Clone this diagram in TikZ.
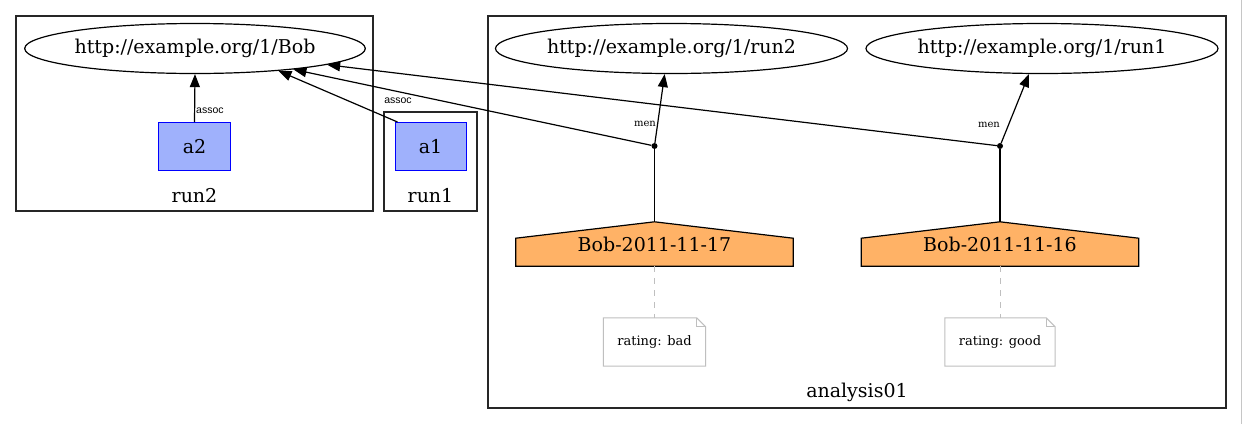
\documentclass[tikz,border=0pt]{standalone}
\usepackage{fontspec}
\setmainfont{DejaVu Serif}
\newfontfamily\lblsans{Liberation Sans}
\usetikzlibrary{arrows.meta,calc,shapes.geometric,backgrounds}
\definecolor{agentfill}{HTML}{9FB1FC}
\definecolor{actfill}{HTML}{FFB266}
\definecolor{notegray}{HTML}{BFBFBF}
\begin{document}
\begin{tikzpicture}[x=1pt,y=-1pt,
  main/.style={font=\fontsize{19}{22}\selectfont},
  uri/.style={ellipse,draw,line width=1.2pt,minimum height=50pt,inner sep=0pt,main},
  cluster/.style={draw=black!85,line width=1.4pt},
  agent/.style={rectangle,draw=blue,fill=agentfill,line width=1pt,minimum width=72pt,minimum height=48pt,inner sep=0pt,main},
  dotn/.style={circle,fill=black,inner sep=0pt,minimum size=6pt},
  housetxt/.style={rectangle,minimum width=277pt,minimum height=44pt,inner sep=0pt,main},
  housepath/.style={draw=black,line width=1.2pt,fill=actfill},
  notetxt/.style={rectangle,minimum height=48pt,inner sep=0pt,font=\fontsize{13}{15}\selectfont},
  notepath/.style={draw=notegray,line width=1pt,fill=white},
  arr/.style={line width=1.2pt,-{Triangle[length=13pt,width=10pt]}},
  plain/.style={line width=1.2pt},
  assoclbl/.style={font=\lblsans\fontsize{10.5}{12}\selectfont,inner sep=1pt},
  menlbl/.style={font=\fontsize{10}{12}\selectfont,inner sep=1pt}
]
\useasboundingbox (0,0) rectangle (1243,424);
\draw[gray!45,line width=1.2pt] (1241.5,0) -- (1241.5,424);

% clusters
\draw[cluster] (16,16) rectangle (373,211);
\draw[cluster] (384,112) rectangle (477,211);
\draw[cluster] (488,16) rectangle (1226,408);
\node[main] (lrun2) at (194.5,196) {run2};
\node[main] (lrun1) at (430.5,196) {run1};
\node[main] (lana) at (857,392) {analysis01};

% uri ellipses
\node[uri,minimum width=336pt] (bob) at (195,48.5) {http://example.org/1/Bob};
\node[uri,minimum width=347pt] (run2) at (671.5,48.5) {http://example.org/1/run2};
\node[uri,minimum width=346pt] (run1) at (1042,48.5) {http://example.org/1/run1};

% agents
\node[agent] (a2) at (194.5,146.5) {a2};
\node[agent,minimum width=71pt] (a1) at (430.5,146.5) {a1};

% dots
\node[dotn] (d1) at (654.5,146) {};
\node[dotn] (d2) at (1000,146) {};

% houses
\node[housetxt] (h1) at (654.5,244) {Bob-2011-11-17};
\node[housetxt] (h2) at (1000,244) {Bob-2011-11-16};

% notes
\node[notetxt,minimum width=102pt] (n1) at (654.5,342) {rating: bad};
\node[notetxt,minimum width=110pt] (n2) at (1000,342) {rating: good};

\begin{scope}[on background layer]
\fill[white] (0,0) rectangle (1243,424);
\draw[housepath] (h1.south west) -- (h1.south east) -- ($(h1.south east)+(0,-28)$) -- (h1.north) -- ($(h1.south west)+(0,-28)$) -- cycle;
\draw[housepath] (h2.south west) -- (h2.south east) -- ($(h2.south east)+(0,-28)$) -- (h2.north) -- ($(h2.south west)+(0,-28)$) -- cycle;
\foreach \n in {n1,n2}{
  \draw[notepath] (\n.north west) -- ($(\n.north east)+(-9,0)$) -- ($(\n.north east)+(0,9)$) -- (\n.south east) -- (\n.south west) -- cycle;
  \draw[draw=notegray,line width=1pt] ($(\n.north east)+(-9,0)$) -- ($(\n.north east)+(-9,9)$) -- ($(\n.north east)+(0,9)$);
}
\end{scope}
\draw[notegray,line width=1pt,dash pattern=on 6pt off 6pt] (h1.south) -- (n1.north);
\draw[notegray,line width=1pt,dash pattern=on 6pt off 6pt] (h2.south) -- (n2.north);

% edges
\draw[arr] (a2.north) -- node[assoclbl,right,pos=0.24] (lab1) {assoc} (bob.south);
\draw[arr] ([xshift=3pt]a1.north west) -- (bob.-15.4);
\node[assoclbl] (lab2) at (398,101) {assoc};
\draw[arr] (d1) -- (bob.-12.6);
\draw[arr] (d2) -- (bob.-7.4);
\draw[arr] (d1) -- (run2.-105);
\draw[arr] (d2) -- (run1.-117);
\node[menlbl] (m1) at (645,124) {men};
\node[menlbl] (m2) at (989,125) {men};
\draw[plain] (d1) -- (h1.north);
\draw[plain] (d2) -- (h2.north);
\end{tikzpicture}
\end{document}
